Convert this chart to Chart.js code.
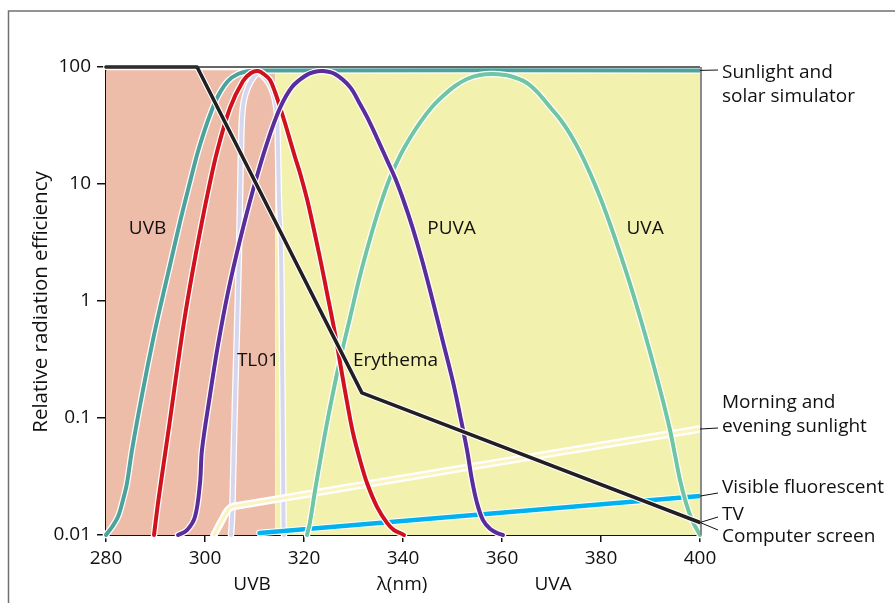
<!DOCTYPE html>
<html>
<head>
<meta charset="utf-8">
<script src="https://cdn.jsdelivr.net/npm/chart.js@4/dist/chart.umd.min.js"></script>
<style>
  html, body { margin: 0; padding: 0; background: #fff; }
  canvas { display: block; }
</style>
</head>
<body>
<canvas id="chart" width="895" height="603"></canvas>
<script>
// Wavelength (nm) and relative radiation efficiency for each source / action spectrum
const sunlightNm  = [280, 281.21, 282.42, 283.43, 284.24, 285.25, 287.27, 289.49, 290.91, 292.93, 294.95, 296.77, 298.38, 299.6, 301.01, 302.63, 304.65, 306.67, 309.09, 312.12, 400];
const sunlightVal = [0.01, 0.0117, 0.0143, 0.0199, 0.0278, 0.0532, 0.157, 0.465, 0.871, 2.03, 4.73, 9.61, 17.7, 26.2, 38.9, 56.5, 75.9, 87.1, 92.4, 93.5, 93.5];

const uvbNm  = [289.7, 290.51, 291.52, 292.93, 294.34, 295.76, 297.37, 298.99, 300.61, 302.42, 305.05, 307.68, 309.29, 310.71,
                312.12, 313.13, 314.14, 315.15, 316.16, 317.17, 318.18, 319.19, 320.61, 321.62, 322.63, 323.64, 324.65, 325.66,
                326.67, 327.68, 328.69, 329.9, 331.31, 332.73, 334.75, 336.77, 338.18, 339.39, 340.2];
const uvbVal = [0.01, 0.0188, 0.0374, 0.0961, 0.257, 0.662, 1.67, 3.89, 8.55, 18.8, 44.6, 75.9, 88.9, 92.4,
                85.4, 77.4, 61.1, 45.5, 33.2, 23.8, 17.0, 12.4, 7.44, 4.83, 3.07, 1.92, 1.17, 0.716,
                0.421, 0.238, 0.137, 0.0744, 0.0438, 0.0278, 0.0174, 0.0127, 0.011, 0.0104, 0.01];

const tl01Nm  = [305.25, 305.45, 305.66, 306.06, 306.46, 306.87, 307.07, 307.27, 307.47, 307.88, 308.69, 309.7, 310.71,
                 311.72, 312.73, 313.54, 314.14, 314.55, 314.75, 314.95, 315.35, 315.56, 315.76, 315.86, 315.96];
const tl01Val = [0.01, 0.0134, 0.0295, 0.1425, 0.565, 2.73, 7.3, 19.5, 36.7, 52.2, 67.5, 80.5, 88.9,
                 83.8, 74.4, 63.6, 52.2, 38.9, 19.5, 7.3, 2.73, 0.381, 0.0533, 0.0134, 0.01];

const puvaNm  = [294.55, 296.36, 297.98, 298.99, 299.39, 301.01, 302.63, 304.65, 307.07, 309.7, 312.53, 315.15, 317.58, 320.2, 322.02, 323.84,
                 326.26, 329.29, 331.31, 332.73, 334.75, 336.77, 338.38, 340.0, 341.82, 343.84, 345.86, 348.08, 350.1, 351.52,
                 352.93, 353.94, 354.95, 356.16, 357.58, 358.99, 360.2];
const puvaVal = [0.01, 0.011, 0.0143, 0.0278, 0.0533, 0.157, 0.421, 1.19, 3.32, 8.89, 22.4, 44.6, 67.5, 83.8, 90.6, 92.4,
                 87.1, 67.5, 48.3, 37.4, 24.7, 16.0, 11.3, 7.44, 4.38, 2.24, 1.06, 0.446, 0.203, 0.106,
                 0.0533, 0.0295, 0.0188, 0.0134, 0.0113, 0.0104, 0.01];

const uvaNm  = [320.61, 321.21, 322.22, 323.43, 324.65, 326.06, 327.27, 329.29, 331.31, 333.33, 335.35, 337.37,
                339.39, 341.41, 343.43, 345.86, 348.08, 350.51, 352.93, 355.56, 358.18, 361.62, 365.05, 367.68, 369.7,
                371.72, 373.74, 375.76, 377.78, 379.8, 381.82, 383.84, 385.86, 387.88, 389.9, 391.52, 392.73, 393.94,
                394.95, 395.96, 397.17, 398.38, 399.19, 400];
const uvaVal = [0.01, 0.0129, 0.0238, 0.0473, 0.0907, 0.1805, 0.313, 0.716, 1.64, 3.39, 6.49, 11.3,
                17.4, 24.7, 33.5, 45.5, 56.5, 68.8, 79.0, 85.4, 87.1, 83.8, 73.0, 57.6, 45.5,
                35.9, 26.8, 18.8, 12.4, 7.74, 4.55, 2.57, 1.40, 0.730, 0.366, 0.203, 0.129, 0.0789,
                0.0483, 0.0295, 0.0188, 0.0134, 0.0115, 0.01];

const erythemaNm  = [280, 298.4, 331.7, 400];
const erythemaVal = [100, 100, 0.164, 0.0128];

const morningNm  = [301.82, 303.43, 304.65, 305.66, 400];
const morningVal = [0.01, 0.0134, 0.0164, 0.0175, 0.0805];

const fluorescentNm  = [311, 400];
const fluorescentVal = [0.0104, 0.0215];

// Shaded wavelength bands (UVB and UVA) and their upper level
const uvbBandNm = [280, 314.2];
const uvaBandNm = [314.2, 400];
const bandTop   = [94, 94];

const xTickValues = [280, 300, 320, 340, 360, 380, 400];
const yTickValues = [0.01, 0.1, 1, 10, 100];

const FONT = '"Open Sans", "Noto Sans", sans-serif';
Chart.defaults.font.family = FONT;
Chart.defaults.font.size = 19;
Chart.defaults.color = '#111';

const pairs = (xs, ys) => xs.map((x, i) => ({ x, y: ys[i] }));

// Each curve is stroked twice: a white halo underneath, then the coloured line
function curve(nm, val, color, width, total, order, straight) {
  const base = {
    data: pairs(nm, val),
    pointRadius: 0,
    fill: false,
    clip: false,
    tension: straight ? 0 : 0.35,
    borderCapStyle: 'round',
    borderJoinStyle: 'round'
  };
  return [
    Object.assign({}, base, { borderColor: color, borderWidth: width, order: order }),
    Object.assign({}, base, { borderColor: '#ffffff', borderWidth: total, order: order + 1 })
  ];
}

function band(nm, top, color) {
  return {
    data: pairs(nm, top),
    borderWidth: 0,
    pointRadius: 0,
    tension: 0,
    fill: 'start',
    backgroundColor: color,
    order: 50
  };
}

const datasets = [
  ...curve(erythemaNm, erythemaVal, '#231f20', 3.6, 5.8, 0, true),
  ...curve(puvaNm, puvaVal, '#5a2d9a', 4, 6.5, 2),
  ...curve(uvbNm, uvbVal, '#d0121e', 4, 6.5, 4),
  ...curve(uvaNm, uvaVal, '#70c6a2', 4, 6.5, 6),
  ...curve(fluorescentNm, fluorescentVal, '#00b2ee', 4.5, 6.5, 8, true),
  ...curve(morningNm, morningVal, '#fbf3c0', 3, 7.5, 10),
  ...curve(tl01Nm, tl01Val, '#d6d6ef', 4, 6.5, 12),
  ...curve(sunlightNm, sunlightVal, '#4ea29c', 4, 6.5, 14),
  band(uvbBandNm, bandTop, '#edbdaa'),
  band(uvaBandNm, bandTop, '#f3f1ae')
];

// Text labels inside the plot (anchored in data space: nm, efficiency at baseline)
const curveLabels = [
  { text: 'UVB',      nm: 288.4, v: 3.74, align: 'center' },
  { text: 'PUVA',     nm: 349.8, v: 3.74, align: 'center' },
  { text: 'UVA',      nm: 388.9, v: 3.74, align: 'center' },
  { text: 'TL01',     nm: 310.7, v: 0.278, align: 'center' },
  { text: 'Erythema', nm: 329.9, v: 0.278, align: 'left' }
];

// Source names to the right of the plot, each with a leader line from the curve end
const sourceLabels = [
  { lines: ['Sunlight and', 'solar simulator'], baseline: 78, from: 93.5, toY: 70 },
  { lines: ['Morning and', 'evening sunlight'], baseline: 408, from: 0.0805, toY: 428 },
  { lines: ['Visible fluorescent'], baseline: 493, from: 0.0215, toY: 493 },
  { lines: ['TV'], baseline: 520, from: 0.0128, toY: 517 },
  { lines: ['Computer screen'], baseline: 542, from: 0.0128, toY: 530 }
];

const bandNames = [
  { text: 'UVB',   nm: 309.5 },
  { text: 'λ(nm)', nm: 339.8 },
  { text: 'UVA',   nm: 370.3 }
];

const decorations = {
  id: 'decorations',
  beforeDraw(chart) {
    const { ctx } = chart;
    ctx.save();
    ctx.strokeStyle = '#707070';
    ctx.lineWidth = 1.5;
    ctx.beginPath();
    ctx.moveTo(8.5, chart.height);
    ctx.lineTo(8.5, 11);
    ctx.lineTo(chart.width, 11);
    ctx.stroke();
    ctx.restore();
  },
  afterDatasetsDraw(chart) {
    const { ctx, chartArea: a, scales } = chart;
    const x = scales.x, y = scales.y;
    ctx.save();
    // top and right edges of the plot frame
    ctx.strokeStyle = '#333';
    ctx.lineWidth = 1.3;
    ctx.beginPath();
    ctx.moveTo(a.left, a.top);
    ctx.lineTo(a.right, a.top);
    ctx.stroke();
    ctx.strokeStyle = '#8a8a8a';
    ctx.lineWidth = 2;
    ctx.beginPath();
    ctx.moveTo(a.right + 1, a.top);
    ctx.lineTo(a.right + 1, a.bottom);
    ctx.stroke();

    ctx.fillStyle = '#111';
    ctx.font = '19px ' + FONT;
    ctx.textBaseline = 'alphabetic';
    curveLabels.forEach(l => {
      ctx.textAlign = l.align;
      ctx.fillText(l.text, x.getPixelForValue(l.nm), y.getPixelForValue(l.v));
    });

    // right-hand source names
    ctx.textAlign = 'left';
    ctx.strokeStyle = '#111';
    ctx.lineWidth = 1;
    sourceLabels.forEach(s => {
      ctx.beginPath();
      ctx.moveTo(a.right, y.getPixelForValue(s.from));
      ctx.lineTo(a.right + 18, s.toY);
      ctx.stroke();
      s.lines.forEach((t, i) => ctx.fillText(t, a.right + 22, s.baseline + i * 24));
    });

    // band names under the axis
    ctx.textAlign = 'center';
    bandNames.forEach(b => ctx.fillText(b.text, x.getPixelForValue(b.nm), a.bottom + 55));

    // y-axis title
    ctx.font = '20.5px ' + FONT;
    ctx.translate(47, (a.top + a.bottom) / 2 + 1);
    ctx.rotate(-Math.PI / 2);
    ctx.textAlign = 'center';
    ctx.fillText('Relative radiation efficiency', 0, 0);
    ctx.restore();
  }
};

new Chart(document.getElementById('chart'), {
  type: 'line',
  data: { datasets },
  plugins: [decorations],
  options: {
    responsive: false,
    animation: false,
    events: [],
    layout: { padding: { left: 0, top: 67, right: 195, bottom: 0 } },
    plugins: { legend: { display: false }, tooltip: { enabled: false } },
    scales: {
      x: {
        type: 'linear',
        min: 280,
        max: 400,
        afterBuildTicks: s => { s.ticks = xTickValues.map(v => ({ value: v })); },
        afterFit: s => { s.height = 68; },
        ticks: { padding: 5, maxRotation: 0, autoSkip: false, color: '#111', font: { size: 19 } },
        grid: { drawOnChartArea: false, drawTicks: true, tickLength: 7, color: '#111', lineWidth: 1.5 },
        border: { display: true, color: '#111', width: 2 }
      },
      y: {
        type: 'logarithmic',
        min: 0.01,
        max: 100,
        afterBuildTicks: s => { s.ticks = yTickValues.map(v => ({ value: v })); },
        afterFit: s => { s.width = 106; },
        ticks: { padding: 6, autoSkip: false, color: '#111', font: { size: 19 }, callback: v => String(v) },
        grid: { drawOnChartArea: false, drawTicks: true, tickLength: 9, color: '#111', lineWidth: 1.5 },
        border: { display: true, color: '#111', width: 2 }
      }
    }
  }
});
</script>
</body>
</html>
